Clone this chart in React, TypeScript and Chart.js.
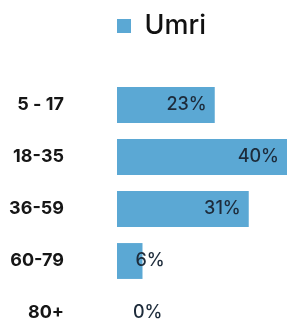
import React, { useEffect, useRef } from "react";
import { Chart, registerables } from "chart.js";

Chart.register(...registerables);

const categories = ["5 - 17", "18-35", "36-59", "60-79", "80+"];
const values = [23, 40, 31, 6, 0];
const valueLabels = ["23%", "40%", "31%", "6%", "0%"];
const seriesName = "Umri";

const BAR_COLOR = "#5ba8d4";
const FONT = "Inter, 'Noto Sans', sans-serif";

const valueLabelPlugin = {
  id: "valueLabels",
  afterDatasetsDraw(chart: any) {
    const ctx = chart.ctx;
    const meta = chart.getDatasetMeta(0);
    const left = chart.chartArea.left;
    ctx.save();
    ctx.font = `500 18px ${FONT}`;
    ctx.fillStyle = "#1d2b3a";
    ctx.textBaseline = "middle";
    meta.data.forEach((bar: any, i: number) => {
      const text = valueLabels[i];
      const w = ctx.measureText(text).width;
      const end = bar.x;
      if (end - left > w + 20) {
        ctx.textAlign = "right";
        ctx.fillText(text, end - 8, bar.y);
      } else {
        ctx.textAlign = "left";
        ctx.fillText(text, Math.max(end - 7, left + 16), bar.y);
      }
    });
    ctx.restore();
  },
};

export default function App() {
  const ref = useRef<HTMLCanvasElement | null>(null);
  useEffect(() => {
    if (!ref.current) return;
    const chart = new Chart(ref.current, {
      type: "bar",
      data: {
        labels: categories,
        datasets: [
          {
            label: seriesName,
            data: values,
            backgroundColor: BAR_COLOR,
            borderWidth: 0,
            categoryPercentage: 1,
            barPercentage: 0.69,
          },
        ],
      },
      options: {
        indexAxis: "y",
        animation: false,
        responsive: false,
        layout: { padding: { top: 12.5, right: 2, bottom: 6, left: 0 } },
        plugins: {
          tooltip: { enabled: false },
          legend: {
            display: true,
            position: "top",
            align: "start",
            fullSize: false,
            labels: {
              boxWidth: 14,
              boxHeight: 14,
              padding: 0,
              color: "#111111",
              font: { family: FONT, size: 27, weight: "500" },
            },
          },
        },
        scales: {
          x: {
            position: "top",
            min: 0,
            max: 40,
            ticks: { display: false },
            grid: { display: false, drawTicks: false },
            border: { display: false },
            afterFit: (s: any) => {
              s.height = 29.5;
            },
          },
          y: {
            position: "left",
            grid: { display: false, drawTicks: false, tickLength: 0 },
            border: { display: false },
            ticks: {
              padding: 53,
              color: "#161616",
              font: { family: FONT, size: 18, weight: "bold" },
            },
            afterFit: (s: any) => {
              s.width = 117;
              s.paddingTop = 0;
              s.paddingBottom = 0;
            },
          },
        },
      },
      plugins: [valueLabelPlugin],
    });
    return () => chart.destroy();
  }, []);
  return (
    <div style={{ position: "fixed", left: 0, top: 0, width: 289, height: 345, background: "#fff" }}>
      <canvas ref={ref} width={289} height={345} />
    </div>
  );
}
